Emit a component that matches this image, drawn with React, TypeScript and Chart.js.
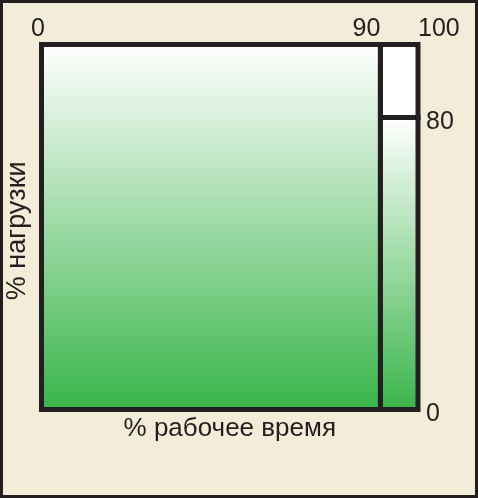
import React, { useEffect, useRef } from "react";
import { Chart, registerables } from "chart.js";

Chart.register(...registerables);

// ---- data ----
const barStarts = [0, 90]; // % рабочее время, start of each block
const barEnds = [90, 100]; // % рабочее время, end of each block
const barLoads = [100, 80]; // % нагрузки
const fullLoad = 100; // top of the frame (unused capacity above a block is white)
const xTickValues = [0, 90, 100];
const xTickLabels = ["0 ", "90    ", "      100"];
const yTickValues = [0, 80];
const yTickLabels = ["0", "80"];
const xTitle = "% рабочее время";
const yTitle = "% нагрузки ";

const INK = "#231f20";
const BG = "#f3ecd8";
const GREEN = "#39b54a";
const FONT = "'Liberation Sans', Arial, sans-serif";

function rectPoints(x0: number, x1: number, y0: number, y1: number) {
  return [
    { x: x0, y: y0 },
    { x: x0, y: y1 },
    { x: x1, y: y1 },
    { x: x1, y: y0 },
    { x: x0, y: y0 },
  ];
}

const lineStyle = {
  showLine: true,
  fill: "shape" as const,
  borderColor: INK,
  borderWidth: 5,
  borderJoinStyle: "miter" as const,
  borderCapStyle: "square" as const,
  tension: 0,
  pointRadius: 0,
  pointHoverRadius: 0,
  clip: false as const,
  xAxisID: "x",
  yAxisID: "y",
};

export default function App() {
  const ref = useRef<HTMLCanvasElement | null>(null);

  useEffect(() => {
    document.body.style.margin = "0";
    const canvas = ref.current;
    if (!canvas) return;

    const datasets: any[] = [];
    barStarts.forEach((start, i) => {
      const end = barEnds[i];
      const load = barLoads[i];
      if (load < fullLoad) {
        datasets.push({
          ...lineStyle,
          label: `free${i}`,
          data: rectPoints(start, end, load, fullLoad),
          backgroundColor: "#ffffff",
        });
      }
      datasets.push({
        ...lineStyle,
        label: `block${i}`,
        data: rectPoints(start, end, 0, load),
        backgroundColor: (ctx: any) => {
          const chart = ctx.chart;
          const area = chart.chartArea;
          const ys = chart.scales?.y;
          if (!area || !ys) return GREEN;
          const top = ys.getPixelForValue(load);
          const bottom = ys.getPixelForValue(0);
          const g = chart.ctx.createLinearGradient(0, top, 0, bottom);
          g.addColorStop(0, "#ffffff");
          g.addColorStop(1, GREEN);
          return g;
        },
      });
    });

    const tickFont = { family: FONT, size: 25 };

    const chart = new Chart(canvas, {
      type: "scatter",
      data: { datasets },
      options: {
        animation: false,
        responsive: false,
        devicePixelRatio: 1,
        layout: { padding: 0 },
        plugins: {
          legend: { display: false },
          tooltip: { enabled: false },
        },
        scales: {
          x: {
            type: "linear",
            position: "top",
            min: 0,
            max: 100,
            grid: { display: false, drawTicks: false },
            border: { display: false },
            afterBuildTicks: (s: any) => {
              s.ticks = xTickValues.map((v) => ({ value: v }));
            },
            afterFit: (s: any) => {
              s.height = 44.5;
            },
            ticks: {
              autoSkip: false,
              maxRotation: 0,
              minRotation: 0,
              padding: 0,
              color: INK,
              font: tickFont,
              callback: (v: any) => {
                const idx = xTickValues.indexOf(Number(v));
                return idx >= 0 ? xTickLabels[idx] : "";
              },
            },
          },
          xb: {
            type: "linear",
            position: "bottom",
            min: 0,
            max: 100,
            grid: { display: false, drawTicks: false },
            border: { display: false },
            ticks: { display: false },
            afterFit: (s: any) => {
              s.height = 88.5;
            },
            title: {
              display: true,
              text: xTitle,
              color: INK,
              font: { family: FONT, size: 26 },
              padding: { top: 0, bottom: 53.5 },
            },
          },
          y: {
            type: "linear",
            position: "left",
            min: 0,
            max: 100,
            grid: { display: false, drawTicks: false },
            border: { display: false },
            ticks: { display: false },
            afterFit: (s: any) => {
              s.width = 41.5;
            },
            title: {
              display: true,
              text: yTitle,
              color: INK,
              font: { family: FONT, size: 27 },
              padding: { top: 1.5, bottom: 0 },
            },
          },
          yr: {
            type: "linear",
            position: "right",
            min: 0,
            max: 100,
            grid: { display: false, drawTicks: false },
            border: { display: false },
            afterBuildTicks: (s: any) => {
              s.ticks = yTickValues.map((v) => ({ value: v }));
            },
            afterFit: (s: any) => {
              s.width = 60;
            },
            ticks: {
              autoSkip: false,
              padding: 8,
              labelOffset: 5,
              color: INK,
              font: tickFont,
              callback: (v: any) => {
                const idx = yTickValues.indexOf(Number(v));
                return idx >= 0 ? yTickLabels[idx] : "";
              },
            },
          },
        },
      },
    });

    return () => {
      chart.destroy();
    };
  }, []);

  return (
    <div
      style={{
        position: "fixed",
        left: 0,
        top: 0,
        width: 478,
        height: 498,
        background: BG,
        boxShadow: `inset 0 0 0 3px ${INK}`,
      }}
    >
      <canvas
        ref={ref}
        width={478}
        height={498}
        style={{ display: "block", width: 478, height: 498 }}
      />
    </div>
  );
}
